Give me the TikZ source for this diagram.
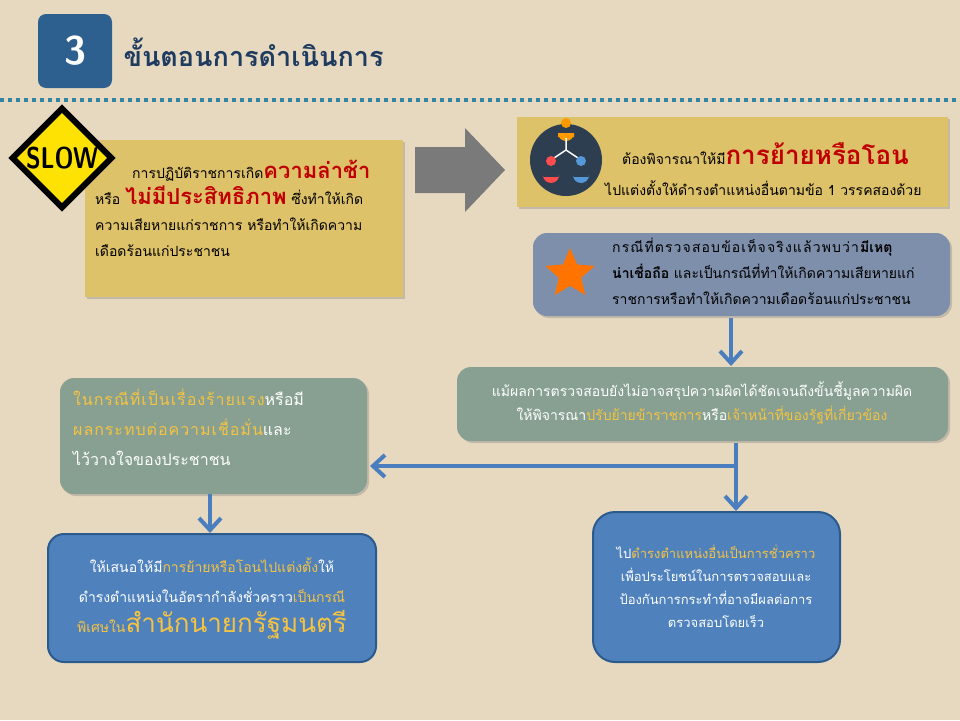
\documentclass[tikz,border=0pt]{standalone}
\usepackage{fontspec}
\setmainfont[Script=Thai]{Loma}
\newfontfamily\dejab{DejaVu Sans}
\usetikzlibrary{shapes.geometric,arrows.meta,shadows,calc}
\definecolor{bg}{HTML}{E6D9BF}
\definecolor{badge}{HTML}{2D5F8F}
\definecolor{ttl}{HTML}{1F3B60}
\definecolor{dots}{HTML}{2E86A4}
\definecolor{ybox}{HTML}{DEC269}
\definecolor{gbox}{HTML}{7E8FAC}
\definecolor{grn}{HTML}{87A091}
\definecolor{bbox}{HTML}{4F81BD}
\definecolor{bbord}{HTML}{2B5A8C}
\definecolor{arr}{HTML}{4A7EBF}
\definecolor{hred}{HTML}{C00000}
\definecolor{hyel}{HTML}{F5C342}
\definecolor{navy}{HTML}{2C3E50}
\tikzset{
 box/.style={draw=none,inner sep=0pt,drop shadow={shadow xshift=2pt,shadow yshift=-2pt,opacity=0.35}},
 rbox/.style={box,rounded corners=14pt},
 flow/.style={draw=arr,line width=4.5pt,-{Straight Barb[length=12pt,width=22pt,line width=4pt]}},
 txt/.style={font=\fontsize{14}{26}\selectfont,align=left,anchor=north west,inner sep=0pt},
}
\begin{document}
\begin{tikzpicture}[x=1pt,y=-1pt]
\useasboundingbox (0,0) rectangle (960,720);
\fill[bg] (0,0) rectangle (960,720);
% title
\node[fill=badge,rounded corners=8pt,minimum size=74pt,text=white,font=\sffamily\bfseries\fontsize{40}{40}\selectfont] (badge) at (75,51) {3};
\node[anchor=west,text=ttl,font=\bfseries\fontsize{27}{30}\selectfont] (title) at (120,52) {ขั้นตอนการดำเนินการ};
\draw[dots,line width=4pt,dash pattern=on 4pt off 4pt] (0,100) -- (960,100);
% box1
\fill[ybox,box] (85,140) rectangle (403,297);
\node[diamond,aspect=1,fill=yellow!85!orange,draw=black,line width=3pt,minimum size=100pt,inner sep=0pt,double=yellow!85!orange,double distance=0pt] (slow) at (62,158) {};
\node[font=\sffamily\bfseries\fontsize{30}{30}\selectfont,xscale=0.8] (slowt) at (62,158) {SLOW};
\node[txt] (t1) at (95,160) {\hspace*{37pt}การปฏิบัติราชการเกิด{\color{hred}\bfseries\fontsize{22}{22}\selectfont ความล่าช้า}\\
หรือ {\color{hred}\bfseries\fontsize{22}{22}\selectfont ไม่มีประสิทธิภาพ} ซึ่งทำให้เกิด\\
ความเสียหายแก่ราชการ หรือทำให้เกิดความ\\
เดือดร้อนแก่ประชาชน};
% gray arrow
\fill[gray!70!black!80] (415,147) -- (465,147) -- (465,128) -- (505,170) -- (465,212) -- (465,193) -- (415,193) -- cycle;
% box2
\fill[ybox,box] (517,117) rectangle (948,207);
\fill[navy] (566,160) circle (36);
\fill[orange!80!yellow] (566,123) circle (5); \fill[orange!80!yellow] (558,137) rectangle (574,133) arc(0:180:8);
\draw[white,line width=1.5pt] (566,138) -- (566,150) -- (551,160) (566,150) -- (581,160);
\fill[red!70!white] (551,161) circle (5); \fill[red!70!white] (543,177) -- (543,175) arc(180:0:8) -- (559,177) -- cycle;
\fill[cyan!60!blue!70] (581,161) circle (5); \fill[cyan!60!blue!70] (573,177) -- (573,175) arc(180:0:8) -- (589,177) -- cycle;
\node[anchor=west,inner sep=0pt,font=\fontsize{14}{16}\selectfont] (t2a) at (622,154) {ต้องพิจารณาให้มี{\color{hred}\bfseries\fontsize{26}{26}\selectfont การย้ายหรือโอน}};
\node[anchor=west,inner sep=0pt,font=\fontsize{14}{16}\selectfont] (t2b) at (605,188) {ไปแต่งตั้งให้ดำรงตำแหน่งอื่นตามข้อ 1 วรรคสองด้วย};
% box3
\fill[gbox,rbox] (533,233) rectangle (950,316);
\node[star,star points=5,star point ratio=2.2,fill=orange!90!red,minimum size=52pt,inner sep=0pt] (star) at (570,274) {};
\node[txt,font=\fontsize{14}{26}\selectfont] (t3) at (612,238) {\addfontfeature{LetterSpace=8}กรณีที่ตรวจสอบข้อเท็จจริงแล้วพบว่า\addfontfeature{LetterSpace=0}\textbf{มีเหตุ}\\
\textbf{น่าเชื่อถือ} และเป็นกรณีที่ทำให้เกิดความเสียหายแก่\\
ราชการหรือทำให้เกิดความเดือดร้อนแก่ประชาชน};
% box4
\fill[grn,rbox] (457,367) rectangle (948,441);
\node[align=center,inner sep=0pt,text=white,font=\fontsize{14}{24}\selectfont] (t4) at (702,403) {แม้ผลการตรวจสอบยังไม่อาจสรุปความผิดได้ชัดเจนถึงขั้นชี้มูลความผิด\\
ให้พิจารณา{\color{hyel}ปรับย้ายข้าราชการ}หรือ{\color{hyel}เจ้าหน้าที่ของรัฐที่เกี่ยวข้อง}};
% box5
\fill[grn,rbox] (60,378) rectangle (367,494);
\node[txt,text=white,font=\fontsize{16}{30}\selectfont] (t5) at (73,389) {{\color{hyel}\addfontfeature{LetterSpace=6}ในกรณีที่เป็นเรื่องร้ายแรง}หรือมี\\
{\color{hyel}\addfontfeature{LetterSpace=6}ผลกระทบต่อความเชื่อมั่น}และ\\
ไว้วางใจของประชาชน};
% box6
\fill[bbox,draw=bbord,line width=2pt,rounded corners=16pt] (48,534) rectangle (376,662);
\node[align=center,inner sep=0pt,text=white,font=\fontsize{14}{30}\selectfont] (t6) at (212,598) {ให้เสนอให้มี{\color{hyel}การย้ายหรือโอนไปแต่งตั้ง}ให้\\
ดำรงตำแหน่งในอัตรากำลังชั่วคราว{\color{hyel}เป็นกรณี}\\
{\color{hyel}พิเศษใน{\fontsize{26}{26}\selectfont สำนักนายกรัฐมนตรี}}};
% box7
\fill[bbox,draw=bbord,line width=2pt,rounded corners=22pt] (593,512) rectangle (840,662);
\node[align=center,inner sep=0pt,text=white,font=\fontsize{13}{23}\selectfont] (t7) at (716,586) {ไป{\color{hyel}ดำรงตำแหน่งอื่นเป็นการชั่วคราว}\\
เพื่อประโยชน์ในการตรวจสอบและ\\
ป้องกันการกระทำที่อาจมีผลต่อการ\\
ตรวจสอบโดยเร็ว};
% arrows
\coordinate (a3) at (731,318);
\coordinate (a4) at (731,366);
\draw[flow] (a3) -- (a4);
\coordinate (s4) at (736,443);
\coordinate (j4) at (736,466);
\coordinate (e7) at (736,511);
\coordinate (e5) at (370,466);
\draw[flow] (s4) -- (e7);
\draw[flow] (j4) -- (e5);
\coordinate (s5) at (210,494);
\coordinate (e6) at (210,533);
\draw[flow] (s5) -- (e6);
\end{tikzpicture}
\end{document}
